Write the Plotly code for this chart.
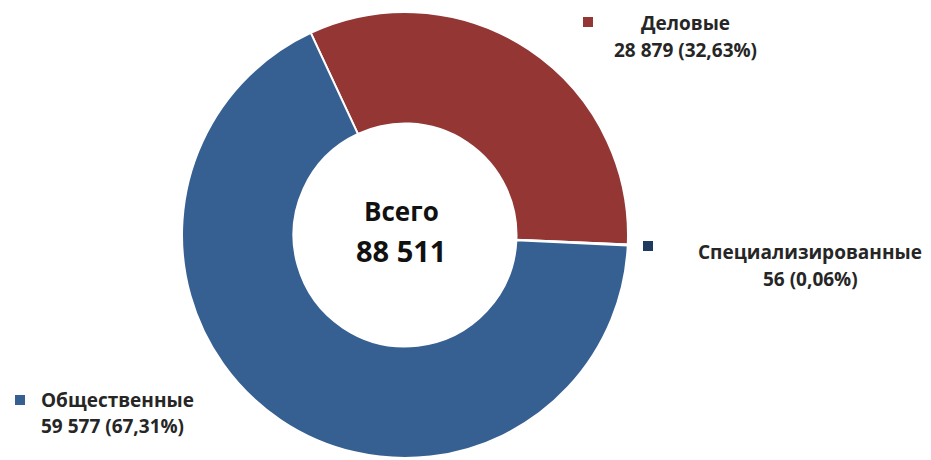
import plotly.graph_objects as go

categories = ["Деловые", "Специализированные", "Общественные"]
values = [28879, 56, 59577]
percent_labels = ["32,63%", "0,06%", "67,31%"]
value_labels = ["28 879", "56", "59 577"]
colors = ["#943634", "#1F3A5F", "#366092"]
total_label = "88 511"

W, H = 931, 460
OFF = 8  # page body margin offset
cx, cy, r = 405 - OFF, 235 - OFF, 223

fig = go.Figure()
fig.add_trace(go.Pie(
    labels=categories, values=values, hole=0.5, sort=False,
    direction="clockwise", rotation=-25,
    marker=dict(colors=colors, line=dict(color="white", width=2)),
    textinfo="none", hoverinfo="label+value+percent", showlegend=False,
    domain=dict(x=[(cx - r) / W, (cx + r) / W], y=[(H - cy - r) / H, (H - cy + r) / H]),
))

font_fam = "Open Sans, Noto Sans, DejaVu Sans"
txt_color = "#262626"

# (square x, square y, text x, line1 y, line2 y, align) in screen pixels
label_pos = [
    (588, 22, 685, 23, 50, "center"),
    (648, 246, 810, 252, 279, "center"),
    (20, 400, 39, 400, 426, "left"),
]

def px(x):
    return (x - OFF) / W

def py(y):
    return 1 - (y - OFF) / H

for i, (sx, sy, tx, y1, y2, al) in enumerate(label_pos):
    fig.add_shape(type="rect", xref="paper", yref="paper",
                  x0=px(sx - 5), x1=px(sx + 5), y0=py(sy + 5), y1=py(sy - 5),
                  fillcolor=colors[i], line=dict(width=0))
    xanchor = "center" if al == "center" else "left"
    fig.add_annotation(x=px(tx), y=py(y1), xref="paper", yref="paper",
                       text=f"<b>{categories[i]}</b>", showarrow=False,
                       xanchor=xanchor, yanchor="middle",
                       font=dict(family=font_fam, size=19, color=txt_color))
    fig.add_annotation(x=px(tx), y=py(y2), xref="paper", yref="paper",
                       text=f"<b>{value_labels[i]} ({percent_labels[i]})</b>", showarrow=False,
                       xanchor=xanchor, yanchor="middle",
                       font=dict(family=font_fam, size=19, color=txt_color))

fig.add_annotation(x=px(401), y=py(211), xref="paper", yref="paper",
                   text="<b>Всего</b>", showarrow=False, xanchor="center", yanchor="middle",
                   font=dict(family=font_fam, size=26, color="#111111"))
fig.add_annotation(x=px(401), y=py(251), xref="paper", yref="paper",
                   text=f"<b>{total_label}</b>", showarrow=False, xanchor="center", yanchor="middle",
                   font=dict(family=font_fam, size=29, color="#111111"))

fig.update_layout(width=W, height=H, margin=dict(l=0, r=0, t=0, b=0),
                  paper_bgcolor="white", plot_bgcolor="white")
fig.write_html("out.html")
